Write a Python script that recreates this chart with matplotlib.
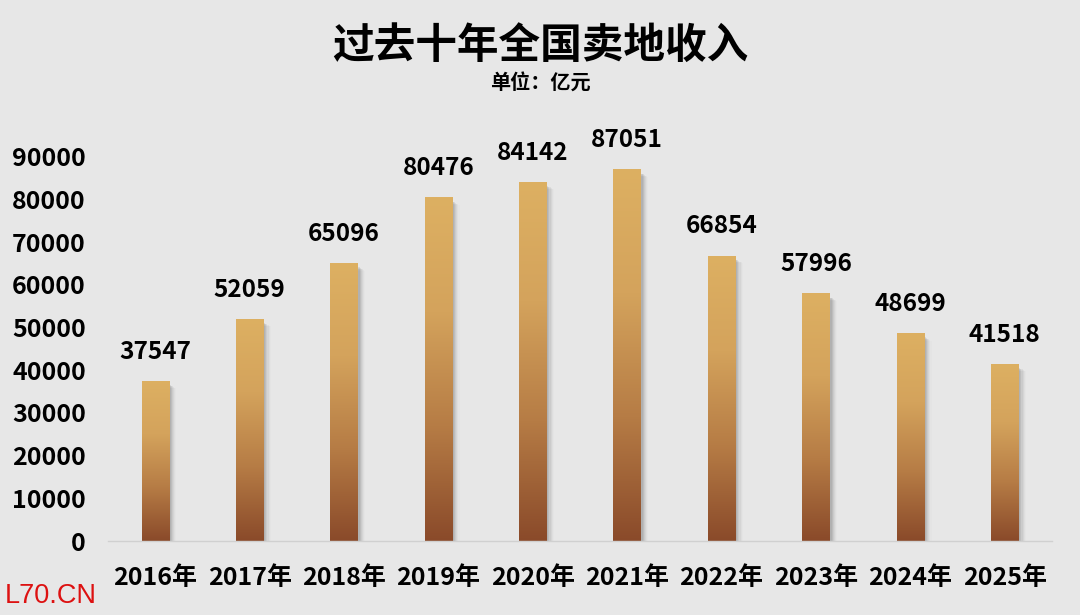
import numpy as np
import matplotlib.pyplot as plt
from matplotlib.colors import LinearSegmentedColormap
from matplotlib.patches import Rectangle

plt.rcParams['font.family'] = ['Noto Sans CJK SC', 'DejaVu Sans']

years = ['2016年', '2017年', '2018年', '2019年', '2020年',
         '2021年', '2022年', '2023年', '2024年', '2025年']
income = [37547, 52059, 65096, 80476, 84142, 87051, 66854, 57996, 48699, 41518]
yticks = [0, 10000, 20000, 30000, 40000, 50000, 60000, 70000, 80000, 90000]

bg = '#e7e7e7'
fig = plt.figure(figsize=(10.8, 6.15), dpi=100, facecolor=bg)
ax = fig.add_axes([0.1, 0.1203, 0.874, 0.6943], facecolor=bg)

x = np.arange(len(years))
w = 0.29
cmap = LinearSegmentedColormap.from_list('gold', ['#8a4a2a', '#b67c45', '#d4a35c', '#ddb062'])
grad = np.linspace(0, 1, 256).reshape(-1, 1)

for xi, v in zip(x, income):
    # soft shadow on the right
    for k, a in enumerate([0.12, 0.10, 0.08, 0.06, 0.04, 0.02]):
        off = 0.02 + k * 0.012
        ax.add_patch(Rectangle((xi - w / 2 + off, 0), w, v - 1000 - k * 150,
                               facecolor='#555555', alpha=a, lw=0, zorder=1))
    bar = ax.bar(xi, v, width=w, color='none', zorder=2)[0]
    im = ax.imshow(grad, cmap=cmap, aspect='auto', origin='lower',
                   extent=(xi - w / 2, xi + w / 2, 0, v), zorder=2)
    im.set_clip_path(bar)
    ax.text(xi, v + 4000, str(v), ha='center', va='bottom',
            fontsize=17.5, fontweight='bold', color='black')

ax.set_xlim(-0.5, len(years) - 0.5)
ax.set_ylim(0, 100000)
ax.set_xticks(x)
ax.set_xticklabels(years, fontsize=18, fontweight='bold')
ax.set_yticks(yticks)
ax.set_yticklabels([str(t) for t in yticks], fontsize=18, fontweight='bold')
ax.tick_params(length=0)
ax.tick_params(axis='y', pad=16)
ax.tick_params(axis='x', pad=18)
for s in ['top', 'right', 'left']:
    ax.spines[s].set_visible(False)
ax.spines['bottom'].set_color('#d0d0d0')
ax.spines['bottom'].set_linewidth(1)

fig.text(0.5, 0.925, '过去十年全国卖地收入', ha='center', va='center',
         fontsize=30, fontweight='bold')
fig.text(0.5, 0.866, '单位：亿元', ha='center', va='center',
         fontsize=14.5, fontweight='bold')
fig.text(0.004, 0.031, 'L70.CN', ha='left', va='center', fontsize=19.5,
         color='#dd1111', family=['Liberation Sans'])

fig.savefig('out.png', dpi=100, facecolor=bg)
